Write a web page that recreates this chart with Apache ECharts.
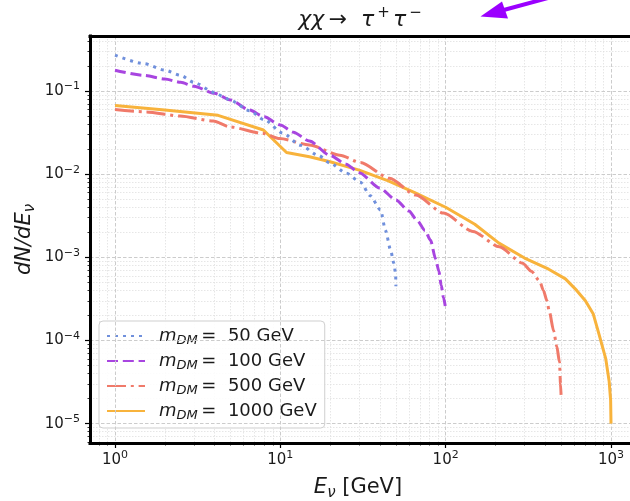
<!DOCTYPE html>
<html><head><meta charset="utf-8">
<script src="https://cdn.jsdelivr.net/npm/echarts@6/dist/echarts.min.js"></script>
<style>html,body{margin:0;padding:0;background:#fff}#c{width:630px;height:501px}</style>
</head><body><div id="c"></div>
<script>
// ---- data ----
const masses = ['50', '100', '500', '1000'];

const E_50  = [1, 1.5, 2, 2.5, 3, 4, 4.5, 5, 6.5, 8, 10.4, 13.2, 17, 20, 25, 30.5, 35, 40.4, 43.3, 46.4, 48.6, 49.8, 50];
const dN_50 = [0.27, 0.213, 0.178, 0.154, 0.127, 0.096, 0.086, 0.077, 0.058, 0.045, 0.031, 0.0223, 0.0168, 0.0136, 0.0103, 0.0080, 0.0055, 0.0037, 0.0021, 0.00123, 0.00085, 0.00064, 0.00045];

const E_100  = [1, 1.5, 2, 2.5, 3, 4, 5, 6.5, 8, 10, 12, 15, 20, 25, 30, 40, 50, 60, 67, 75, 81, 87, 91, 94, 97, 100];
const dN_100 = [0.178, 0.154, 0.139, 0.127, 0.114, 0.094, 0.078, 0.059, 0.049, 0.039, 0.032, 0.025, 0.0168, 0.0132, 0.0104, 0.0068, 0.0049, 0.0036, 0.0028, 0.0021, 0.0016, 0.00095, 0.00068, 0.00046, 0.00033, 0.00024];

const E_500  = [1, 1.55, 2.47, 3.93, 4.95, 7.9, 9.9, 15, 22.9, 30.5, 45.8, 66, 97, 146, 211, 292, 330, 370, 390, 410, 424, 450, 470, 488, 495, 500];
const dN_500 = [0.060, 0.056, 0.050, 0.0436, 0.037, 0.0308, 0.0268, 0.0225, 0.0169, 0.0138, 0.0089, 0.0056, 0.0034, 0.00205, 0.00134, 0.00085, 0.00068, 0.00052, 0.00040, 0.00030, 0.00022, 0.00013, 0.000085, 0.000055, 0.00003, 0.00002];

const E_1000  = [1, 2, 4.2, 7.9, 10.9, 15, 20, 30, 45, 65, 100, 150, 210, 300, 420, 530, 620, 700, 780, 850, 930, 975, 995, 1000];
const dN_1000 = [0.067, 0.059, 0.051, 0.034, 0.0182, 0.0162, 0.0141, 0.0112, 0.0083, 0.0060, 0.0040, 0.0025, 0.00148, 0.00098, 0.00072, 0.00055, 0.00040, 0.00030, 0.00021, 0.000115, 0.00006, 0.000032, 0.000019, 0.00001];

const xMajorTicks = [1, 10, 100, 1000];
const xMinorTicks = [0.8, 0.9, 2, 3, 4, 5, 6, 7, 8, 9, 20, 30, 40, 50, 60, 70, 80, 90, 200, 300, 400, 500, 600, 700, 800, 900];
const yMajorTicks = [1e-5, 1e-4, 1e-3, 1e-2, 1e-1];
const yMinorTicks = [6e-6, 7e-6, 8e-6, 9e-6,
  2e-5, 3e-5, 4e-5, 5e-5, 6e-5, 7e-5, 8e-5, 9e-5,
  2e-4, 3e-4, 4e-4, 5e-4, 6e-4, 7e-4, 8e-4, 9e-4,
  2e-3, 3e-3, 4e-3, 5e-3, 6e-3, 7e-3, 8e-3, 9e-3,
  2e-2, 3e-2, 4e-2, 5e-2, 6e-2, 7e-2, 8e-2, 9e-2,
  0.2, 0.3, 0.4];

const X_MIN = 0.706, X_MAX = 1303, Y_MIN = 5.85e-6, Y_MAX = 0.4586;

// ---- styles ----
const FONT = 'DejaVu Sans';
const colors = ['#7090dc', '#a845e0', '#f07a6a', '#f8b33c'];
const dashes = [[3, 5], [11, 4.8], [19, 4.8, 3, 4.8], 'solid'];
const seriesE = [E_50, E_100, E_500, E_1000];
const seriesN = [dN_50, dN_100, dN_500, dN_1000];

function powLabel(v) {
  const e = Math.round(Math.log10(v));
  return '{b|10}{s|' + (e < 0 ? '\u2212' + (-e) : e) + '}';
}
const labelRich = {
  b: { fontFamily: FONT, fontSize: 15, color: '#1a1a1a', lineHeight: 20 },
  s: { fontFamily: FONT, fontSize: 11, color: '#1a1a1a', verticalAlign: 'top', lineHeight: 20 }
};

const majorSplit = { show: true, lineStyle: { color: '#cccccc', width: 1, type: [3.5, 2] } };
const minorSplit = { show: true, lineStyle: { color: '#e0e0e0', width: 0.8, type: [1.5, 1.5] } };
const spine = { show: true, onZero: false, lineStyle: { color: '#000', width: 3, cap: 'square' } };

const chart = echarts.init(document.getElementById('c'), null, { renderer: 'canvas' });

const series = masses.map((m, i) => ({
  name: m,
  type: 'line',
  xAxisIndex: 0,
  yAxisIndex: 0,
  data: seriesE[i].map((e, j) => [e, seriesN[i][j]]),
  symbol: 'none',
  smooth: i === 3 ? false : 0.25,
  smoothMonotone: 'x',
  lineStyle: { color: colors[i], width: 3, type: dashes[i], cap: 'butt' },
  itemStyle: { color: colors[i] },
  z: 10 - i,
  animation: false
}));

const nameRich = {
  i: { fontFamily: FONT, fontStyle: 'italic', fontSize: 21, color: '#1a1a1a', lineHeight: 27 },
  s: { fontFamily: FONT, fontStyle: 'italic', fontSize: 15, color: '#1a1a1a', verticalAlign: 'bottom', lineHeight: 27 },
  t: { fontFamily: FONT, fontSize: 21, color: '#1a1a1a', lineHeight: 27 }
};

chart.setOption({
  animation: false,
  backgroundColor: '#ffffff',
  title: {
    text: '{i|\u03c7\u03c7}{r|\u2009\u2192  }{i|\u03c4}{p|\u2009+\u2009}{i|\u03c4}{p|\u2009\u2212}',
    left: 360, top: 6, textAlign: 'center', padding: 0,
    textStyle: {
      fontWeight: 'normal',
      rich: {
        i: { fontFamily: FONT, fontStyle: 'italic', fontWeight: 'normal', fontSize: 22, color: '#1a1a1a', lineHeight: 28 },
        r: { fontFamily: FONT, fontWeight: 'normal', fontSize: 22, color: '#1a1a1a', lineHeight: 28 },
        p: { fontFamily: FONT, fontWeight: 'normal', fontSize: 15, color: '#1a1a1a', verticalAlign: 'top', lineHeight: 28 }
      }
    }
  },
  grid: {
    left: 90, top: 36, right: 0, bottom: 58,
    show: true, backgroundColor: '#ffffff', borderWidth: 0,
    containLabel: false,
    outerBoundsMode: 'none'
  },
  legend: {
    data: masses,
    orient: 'vertical',
    left: 99, top: 321,
    itemWidth: 38, itemHeight: 12, itemGap: 5,
    padding: [6, 8, 6, 7],
    backgroundColor: 'rgba(255,255,255,0.85)',
    borderColor: '#cfcfcf', borderWidth: 1, borderRadius: 4,
    itemStyle: { opacity: 0, borderWidth: 0 },
    formatter: name => '{m|m}{d|DM}{t|\u2009=  ' + name + ' GeV}',
    textStyle: {
      padding: [0, 0, 0, 9],
      rich: {
        m: { fontFamily: FONT, fontStyle: 'italic', fontSize: 18, color: '#1a1a1a', lineHeight: 22 },
        d: { fontFamily: FONT, fontStyle: 'italic', fontSize: 13, color: '#1a1a1a', verticalAlign: 'bottom', lineHeight: 22 },
        t: { fontFamily: FONT, fontSize: 18, color: '#1a1a1a', lineHeight: 22 }
      }
    }
  },
  xAxis: [
    {
      type: 'log', logBase: 10, min: X_MIN, max: X_MAX, position: 'bottom',
      name: '{i|E}{s|\u03bd}{t| [GeV]}', nameLocation: 'middle', nameGap: 31, nameMoveOverlap: false,
      nameTextStyle: { padding: [0, 4, 0, 0], rich: nameRich },
      axisLine: spine,
      axisTick: { show: true, length: 5, customValues: xMajorTicks, lineStyle: { color: '#000', width: 1.2 } },
      axisLabel: { show: true, margin: 7, customValues: xMajorTicks, formatter: powLabel, rich: labelRich, hideOverlap: false },
      splitLine: majorSplit,
      z: 5
    },
    {
      type: 'log', logBase: 10, min: X_MIN, max: X_MAX, position: 'bottom',
      axisLine: { show: false },
      axisTick: { show: true, length: 2.5, customValues: xMinorTicks, lineStyle: { color: '#000', width: 0.8 } },
      axisLabel: { show: false },
      splitLine: minorSplit
    },
    {
      type: 'log', logBase: 10, min: X_MIN, max: X_MAX, position: 'top',
      axisLine: spine,
      axisTick: { show: false },
      axisLabel: { show: false },
      splitLine: { show: false },
      z: 5
    }
  ],
  yAxis: [
    {
      type: 'log', logBase: 10, min: Y_MIN, max: Y_MAX, position: 'left',
      name: '{i|dN/dE}{s|\u03bd}', nameLocation: 'middle', nameGap: 52, nameRotate: 90, nameMoveOverlap: false,
      nameTextStyle: { rich: nameRich },
      axisLine: spine,
      axisTick: { show: true, length: 5, customValues: yMajorTicks, lineStyle: { color: '#000', width: 1.2 } },
      axisLabel: { show: true, margin: 10, customValues: yMajorTicks, formatter: powLabel, rich: labelRich },
      splitLine: majorSplit,
      z: 5
    },
    {
      type: 'log', logBase: 10, min: Y_MIN, max: Y_MAX, position: 'left',
      axisLine: { show: false },
      axisTick: { show: true, length: 2.5, customValues: yMinorTicks, lineStyle: { color: '#000', width: 0.8 } },
      axisLabel: { show: false },
      splitLine: minorSplit
    }
  ],
  graphic: [
    { type: 'polyline', shape: { points: [[548, -2], [500, 11]] }, style: { stroke: '#9b00ff', lineWidth: 4, fill: null }, z: 100 },
    { type: 'polygon', shape: { points: [[480.5, 16.5], [502, 1.5], [508, 18.5]] }, style: { fill: '#9b00ff' }, z: 100 }
  ],
  series: series
});
</script>
</body></html>
